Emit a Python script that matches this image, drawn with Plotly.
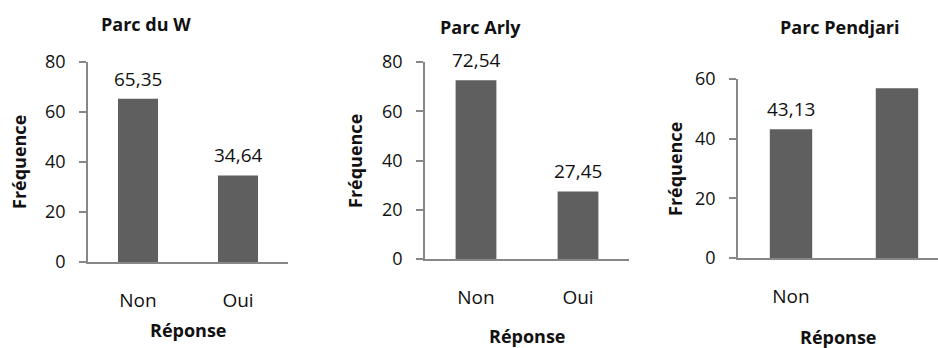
import plotly.graph_objects as go

# Survey answers per park (frequency, %)
categories = ["Non", "Oui"]
parks = ["Parc du W", "Parc Arly", "Parc Pendjari"]
values_w = [65.35, 34.64]
values_arly = [72.54, 27.45]
values_pendjari = [43.13, 56.87]
y_ticks_w = [0, 20, 40, 60, 80]
y_ticks_arly = [0, 20, 40, 60, 80]
y_ticks_pendjari = [0, 20, 40, 60]

W, H = 938, 348
FONT = "Open Sans"
BAR = "#5f5f5f"
AXIS = "#878787"
TEXT = "#111111"


def fx(px):
    return px / W


def fy(py):
    return 1 - py / H


panels = [
    dict(values=values_w, ticks=y_ticks_w, yrange=[0, 80], xdom=[88, 288], ydom=[262, 62],
         xrange=[-0.5, 1.5], labelled=[0, 1], shown=categories,
         title_xy=(146, 24), ytitle_xy=(19, 162), xtitle_xy=(188, 330)),
    dict(values=values_arly, ticks=y_ticks_arly, yrange=[0, 80], xdom=[425, 629], ydom=[259, 62],
         xrange=[-0.5, 1.5], labelled=[0, 1], shown=categories,
         title_xy=(480, 27), ytitle_xy=(355, 161), xtitle_xy=(527, 336)),
    dict(values=values_pendjari, ticks=y_ticks_pendjari, yrange=[0, 60], xdom=[738, 938], ydom=[258, 79],
         xrange=[-0.5, 1.387], labelled=[0], shown=categories[:1],
         title_xy=(839, 27), ytitle_xy=(675, 169), xtitle_xy=(838, 337)),
]

fig = go.Figure()
annotations = []

for i, (name, p) in enumerate(zip(parks, panels)):
    n = "" if i == 0 else str(i + 1)
    xa, ya = "x" + n, "y" + n
    fig.add_trace(go.Bar(
        x=categories, y=p["values"], xaxis=xa, yaxis=ya,
        marker=dict(color=BAR, line=dict(width=0)), width=0.4,
        showlegend=False, hoverinfo="skip",
    ))
    fig.update_layout(**{
        "xaxis" + n: dict(
            domain=[fx(p["xdom"][0]), fx(p["xdom"][1])], anchor=ya,
            type="category", range=p["xrange"], automargin=False,
            tickmode="array", tickvals=p["shown"], ticktext=p["shown"],
            showline=True, linecolor=AXIS, linewidth=1.5,
            ticks="", showgrid=False, zeroline=False,
            tickfont=dict(family=FONT, size=19, color=TEXT),
            ticklabelstandoff=20, fixedrange=True,
        ),
        "yaxis" + n: dict(
            domain=[fy(p["ydom"][0]), fy(p["ydom"][1])], anchor=xa,
            range=p["yrange"], tickmode="array", tickvals=p["ticks"],
            automargin=False,
            showline=True, linecolor=AXIS, linewidth=1.5,
            ticks="outside", ticklen=7, tickcolor=AXIS, tickwidth=1.5,
            showgrid=False, zeroline=False,
            tickfont=dict(family=FONT, size=18, color=TEXT),
            ticklabelstandoff=10, fixedrange=True,
        ),
    })
    # value labels above the bars
    for k in p["labelled"]:
        v = p["values"][k]
        annotations.append(dict(
            x=categories[k], y=v, xref=xa, yref=ya, yshift=20,
            text=f"{v:.2f}".replace(".", ","), showarrow=False,
            yanchor="middle", font=dict(family=FONT, size=19, color=TEXT),
        ))
    tx, ty = p["title_xy"]
    annotations.append(dict(
        x=fx(tx), y=fy(ty), xref="paper", yref="paper", text="<b>" + name + "</b>",
        showarrow=False, xanchor="center", yanchor="middle",
        font=dict(family=FONT, size=18, color=TEXT),
    ))
    yx, yy = p["ytitle_xy"]
    annotations.append(dict(
        x=fx(yx), y=fy(yy), xref="paper", yref="paper", text="<b>Fréquence</b>",
        textangle=-90, showarrow=False, xanchor="center", yanchor="middle",
        font=dict(family=FONT, size=18, color=TEXT),
    ))
    rx, ry = p["xtitle_xy"]
    annotations.append(dict(
        x=fx(rx), y=fy(ry), xref="paper", yref="paper", text="<b>Réponse</b>",
        showarrow=False, xanchor="center", yanchor="middle",
        font=dict(family=FONT, size=18, color=TEXT),
    ))

fig.update_layout(
    width=W, height=H, margin=dict(l=0, r=0, t=0, b=0, autoexpand=False),
    paper_bgcolor="white", plot_bgcolor="white",
    annotations=annotations,
)

fig.write_html("out.html", config={"displayModeBar": False})
